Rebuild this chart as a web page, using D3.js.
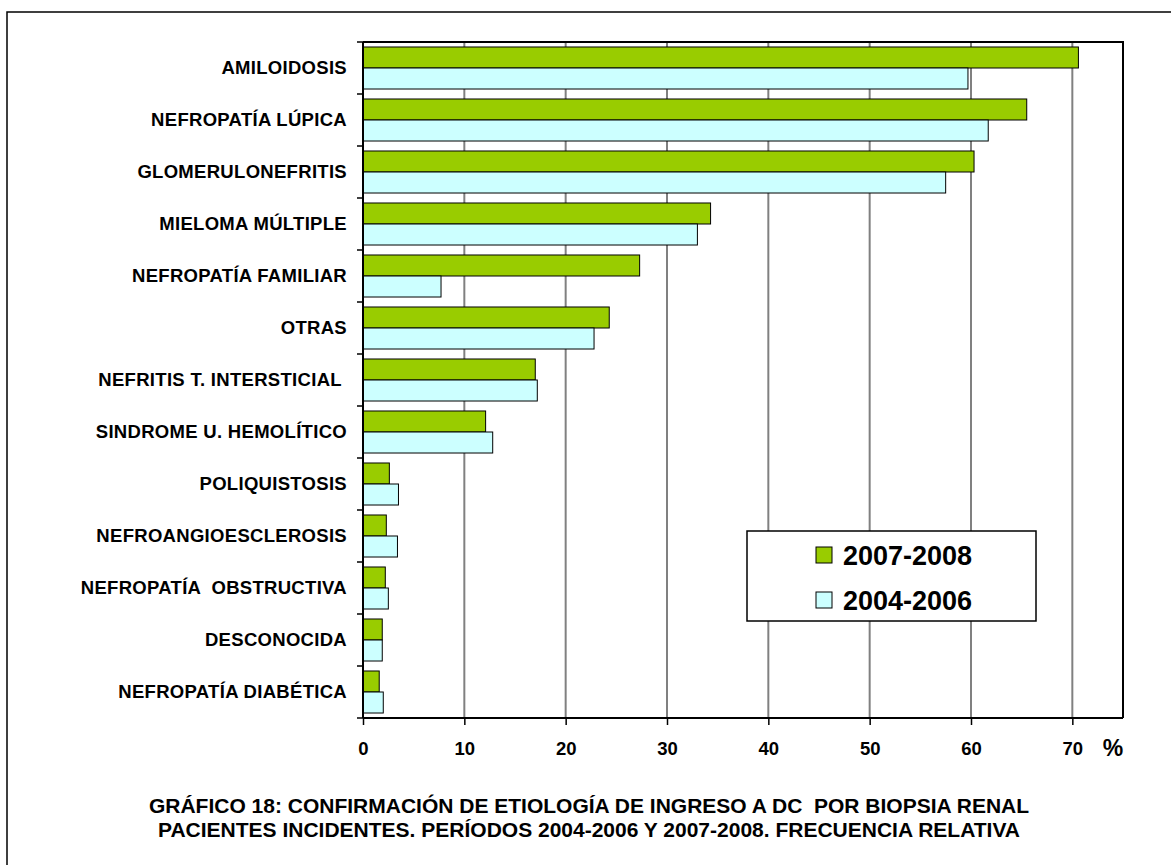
<!DOCTYPE html>
<html>
<head>
<meta charset="utf-8">
<script src="https://cdn.jsdelivr.net/npm/d3@7"></script>
<style>
  body { margin: 0; background: #fff; }
  svg text { font-family: "Liberation Sans", Arial, sans-serif; font-weight: bold; fill: #000; }
</style>
</head>
<body>
<div id="chart"></div>
<script>
// 1. The data
const categories = [
  "AMILOIDOSIS",
  "NEFROPATÍA LÚPICA",
  "GLOMERULONEFRITIS",
  "MIELOMA MÚLTIPLE",
  "NEFROPATÍA FAMILIAR",
  "OTRAS",
  "NEFRITIS T. INTERSTICIAL ",
  "SINDROME U. HEMOLÍTICO",
  "POLIQUISTOSIS",
  "NEFROANGIOESCLEROSIS",
  "NEFROPATÍA  OBSTRUCTIVA",
  "DESCONOCIDA",
  "NEFROPATÍA DIABÉTICA"
];
const seriesNames = ["2007-2008", "2004-2006"];
const values2007 = [70.6, 65.5, 60.3, 34.3, 27.3, 24.3, 17.0, 12.1, 2.6, 2.3, 2.2, 1.9, 1.6];
const values2004 = [59.7, 61.7, 57.5, 33.0, 7.7, 22.8, 17.2, 12.8, 3.5, 3.4, 2.5, 1.9, 2.0];
const xTicks = [0, 10, 20, 30, 40, 50, 60, 70];
const titleLines = [
  "GRÁFICO 18: CONFIRMACIÓN DE ETIOLOGÍA DE INGRESO A DC  POR BIOPSIA RENAL",
  "PACIENTES INCIDENTES. PERÍODOS 2004-2006 Y 2007-2008. FRECUENCIA RELATIVA"
];

// 2. The colours
const colors = ["#99CC00", "#CCFFFF"];

// 3. Draw
const WIDTH = 1171;
const HEIGHT = 865;
const plotLeft = 363, plotRight = 1123, plotTop = 42, plotBottom = 718;

const svg = d3.select("#chart")
  .append("svg")
  .attr("width", WIDTH)
  .attr("height", HEIGHT);

// outer frame
svg.append("rect")
  .attr("x", 7).attr("y", 12)
  .attr("width", WIDTH + 10).attr("height", HEIGHT + 10)
  .attr("fill", "none")
  .attr("stroke", "#000")
  .attr("stroke-width", 1.5);

const x = d3.scaleLinear().domain([0, 75]).range([plotLeft, plotRight]);
const y0 = d3.scaleBand().domain(categories).range([plotTop, plotBottom]).padding(0);
const bw = y0.bandwidth();
const y1 = d3.scaleBand().domain(seriesNames).range([bw * 0.096, bw * 0.904]);

// gridlines
svg.append("g")
  .selectAll("line")
  .data(xTicks.filter((d) => d > 0))
  .enter()
  .append("line")
  .attr("x1", (d) => x(d)).attr("x2", (d) => x(d))
  .attr("y1", plotTop).attr("y2", plotBottom)
  .attr("stroke", "#808080")
  .attr("stroke-width", 2);

// plot border (top and right)
svg.append("path")
  .attr("d", `M${plotLeft},${plotTop}H${plotRight}V${plotBottom}`)
  .attr("fill", "none")
  .attr("stroke", "#000")
  .attr("stroke-width", 2);

// bars
const rows = categories.map((c, i) => ({ cat: c, vals: [values2007[i], values2004[i]] }));
const groups = svg.append("g")
  .selectAll("g")
  .data(rows)
  .enter()
  .append("g")
  .attr("transform", (d) => `translate(0,${y0(d.cat)})`);

groups.selectAll("rect")
  .data((d) => d.vals.map((v, j) => ({ s: seriesNames[j], v: v, c: colors[j] })))
  .enter()
  .append("rect")
  .attr("x", x(0))
  .attr("y", (d) => y1(d.s))
  .attr("width", (d) => x(d.v) - x(0))
  .attr("height", y1.bandwidth())
  .attr("fill", (d) => d.c)
  .attr("stroke", "#000")
  .attr("stroke-width", 1);

// x axis
const xAxis = d3.axisBottom(x)
  .tickValues(xTicks)
  .tickSize(7)
  .tickPadding(17)
  .tickFormat(d3.format("d"));
const gx = svg.append("g")
  .attr("transform", `translate(0,${plotBottom})`)
  .call(xAxis);
gx.select(".domain").attr("d", `M${plotLeft},0H${plotRight}`).attr("stroke", "#000").attr("stroke-width", 2);
gx.selectAll(".tick line").attr("stroke", "#000").attr("stroke-width", 1.5);
gx.selectAll(".tick text").attr("font-size", 18.5).attr("font-family", null);

svg.append("text")
  .attr("x", 1113).attr("y", 756)
  .attr("text-anchor", "middle")
  .attr("font-size", 23)
  .text("%");

// y axis
const yTicks = d3.range(categories.length + 1).map((i) => plotTop + i * bw);
svg.append("line")
  .attr("x1", plotLeft).attr("x2", plotLeft)
  .attr("y1", plotTop).attr("y2", plotBottom)
  .attr("stroke", "#000").attr("stroke-width", 2);
svg.append("g")
  .selectAll("line")
  .data(yTicks)
  .enter()
  .append("line")
  .attr("x1", plotLeft - 6).attr("x2", plotLeft)
  .attr("y1", (d) => d).attr("y2", (d) => d)
  .attr("stroke", "#000").attr("stroke-width", 1.5);

svg.append("g")
  .selectAll("text")
  .data(categories)
  .enter()
  .append("text")
  .attr("x", 347)
  .attr("y", (d) => y0(d) + bw / 2)
  .attr("dy", "0.35em")
  .attr("text-anchor", "end")
  .attr("font-size", 18.5)
  .attr("letter-spacing", 0.3)
  .style("white-space", "pre")
  .text((d) => d);

// legend
const legend = svg.append("g");
legend.append("rect")
  .attr("x", 747).attr("y", 531)
  .attr("width", 289).attr("height", 90)
  .attr("fill", "#fff")
  .attr("stroke", "#000")
  .attr("stroke-width", 1.5);
const legendRows = [555, 600];
seriesNames.forEach((s, i) => {
  legend.append("rect")
    .attr("x", 816).attr("y", legendRows[i] - 8)
    .attr("width", 16).attr("height", 16)
    .attr("fill", colors[i])
    .attr("stroke", "#000")
    .attr("stroke-width", 1);
  legend.append("text")
    .attr("x", 843).attr("y", legendRows[i])
    .attr("dy", "0.36em")
    .attr("font-size", 27)
    .text(s);
});

// title
svg.append("g")
  .selectAll("text")
  .data(titleLines)
  .enter()
  .append("text")
  .attr("x", 589)
  .attr("y", (d, i) => 813 + i * 24)
  .attr("text-anchor", "middle")
  .attr("font-size", 21)
  .style("white-space", "pre")
  .text((d) => d);
</script>
</body>
</html>
